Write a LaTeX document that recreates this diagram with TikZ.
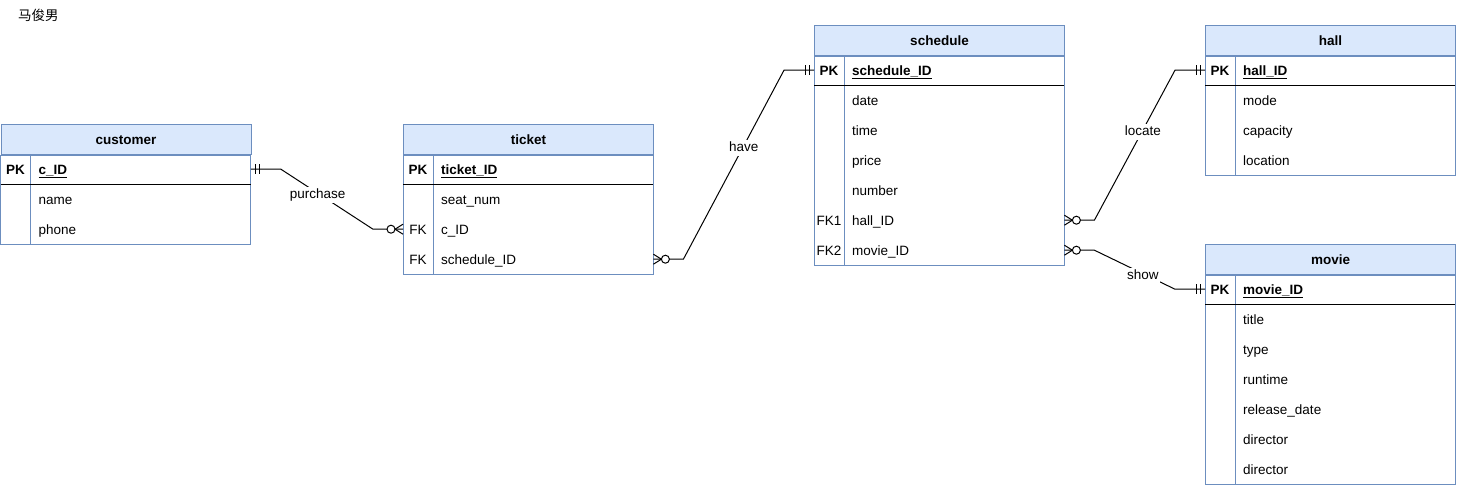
\documentclass[tikz,border=0pt]{standalone}
\usepackage{fontspec}
\setmainfont{Liberation Sans}
\newfontfamily\cjk{Noto Sans CJK SC}
\usetikzlibrary{calc}
\definecolor{hdrfill}{HTML}{DAE8FC}
\definecolor{hdrline}{HTML}{6C8EBF}
\newcommand\fsz{\fontsize{13.5}{16}\selectfont}
\tikzset{
 every node/.style={font=\fsz, inner sep=0pt},
 hdr/.style={draw=hdrline, fill=hdrfill, line width=1pt, minimum width=250pt, minimum height=30pt, font=\fsz\bfseries, anchor=north west, text height=11.5pt, text depth=1.5pt},
 rowbox/.style={minimum width=250pt, minimum height=30pt, anchor=north west},
 keytxt/.style={anchor=base},
 pktxt/.style={anchor=base, font=\fsz\bfseries},
 fldtxt/.style={anchor=base west},
 pkfld/.style={anchor=base west, font=\fsz\bfseries},
 frame/.style={draw=hdrline, line width=1pt},
 pkline/.style={draw=black, line width=1pt},
 rel/.style={draw=black, line width=1pt},
 lbl/.style={fill=white, inner sep=1.5pt, text height=10pt, text depth=3pt, yshift=-2pt},
 mandone/.pic={\draw[line width=1pt] (5,-5)--(5,5) (9,-5)--(9,5);},
 zeromany/.pic={\draw[line width=1pt] (0,-5)--(8,0)--(0,5); \draw[line width=1pt, fill=white] (12,0) circle (4pt);}
}
\newcommand\ertable[7]{%
 \node[hdr] (#1) at (#2,#3) {#4};
 \node[rowbox] (#1-r1) at (#2,#3+30) {};
 \node[pktxt] (#1-k1) at ($(#1-r1.west)+(15,5)$) {PK};
 \node[pkfld] (#1-f1) at ($(#1-r1.west)+(38,5)$) {\underline{#5}};
 \foreach \k/\f [count=\i from 2] in {#6} {
   \node[rowbox] (#1-r\i) at (#2,#3+30*\i) {};
   \node[keytxt] (#1-k\i) at ($(#1-r\i.west)+(15,5)$) {\k};
   \node[fldtxt] (#1-f\i) at ($(#1-r\i.west)+(38,5)$) {\f};
 }
 \draw[frame] (#1.south west) rectangle (#1-r#7.south east);
 \draw[frame] ($(#1.south west)+(30,0)$) -- ($(#1-r#7.south west)+(30,0)$);
 \draw[pkline] (#1-r1.south west) -- (#1-r1.south east);
}
\begin{document}
\begin{tikzpicture}[x=1pt,y=-1pt]
\useasboundingbox (0,0) rectangle (1457,485);
\node[anchor=base west, font=\cjk\fsz] (author) at (18,20) {马俊男};
\ertable{customer}{0.5}{124}{customer}{c\_ID}{/name, /phone}{3}
\ertable{ticket}{403}{124}{ticket}{ticket\_ID}{/seat\_num, FK/c\_ID, FK/schedule\_ID}{4}
\ertable{schedule}{814}{25}{schedule}{schedule\_ID}{/date, /time, /price, /number, FK1/hall\_ID, FK2/movie\_ID}{7}
\ertable{hall}{1205}{25}{hall}{hall\_ID}{/mode, /capacity, /location}{4}
\ertable{movie}{1205}{244}{movie}{movie\_ID}{/title, /type, /runtime, /release\_date, /director, /director}{7}
% relations
\draw[rel] (ticket-r3.west) -- ++(-30,0) -- node[lbl,pos=0.6]{purchase} ($(customer-r1.east)+(30,0)$) -- (customer-r1.east);
\draw[rel] (ticket-r4.east) -- ++(30,0) -- node[lbl,pos=0.6]{have} ($(schedule-r1.west)+(-30,0)$) -- (schedule-r1.west);
\draw[rel] (schedule-r6.east) -- ++(30,0) -- node[lbl,pos=0.6]{locate} ($(hall-r1.west)+(-30,0)$) -- (hall-r1.west);
\draw[rel] (schedule-r7.east) -- ++(30,0) -- node[lbl,pos=0.6]{show} ($(movie-r1.west)+(-30,0)$) -- (movie-r1.west);
\pic at (customer-r1.east) {mandone};
\pic[xscale=-1] at (ticket-r3.west) {zeromany};
\pic at (ticket-r4.east) {zeromany};
\pic[xscale=-1] at (schedule-r1.west) {mandone};
\pic at (schedule-r6.east) {zeromany};
\pic[xscale=-1] at (hall-r1.west) {mandone};
\pic at (schedule-r7.east) {zeromany};
\pic[xscale=-1] at (movie-r1.west) {mandone};
\end{tikzpicture}
\end{document}
